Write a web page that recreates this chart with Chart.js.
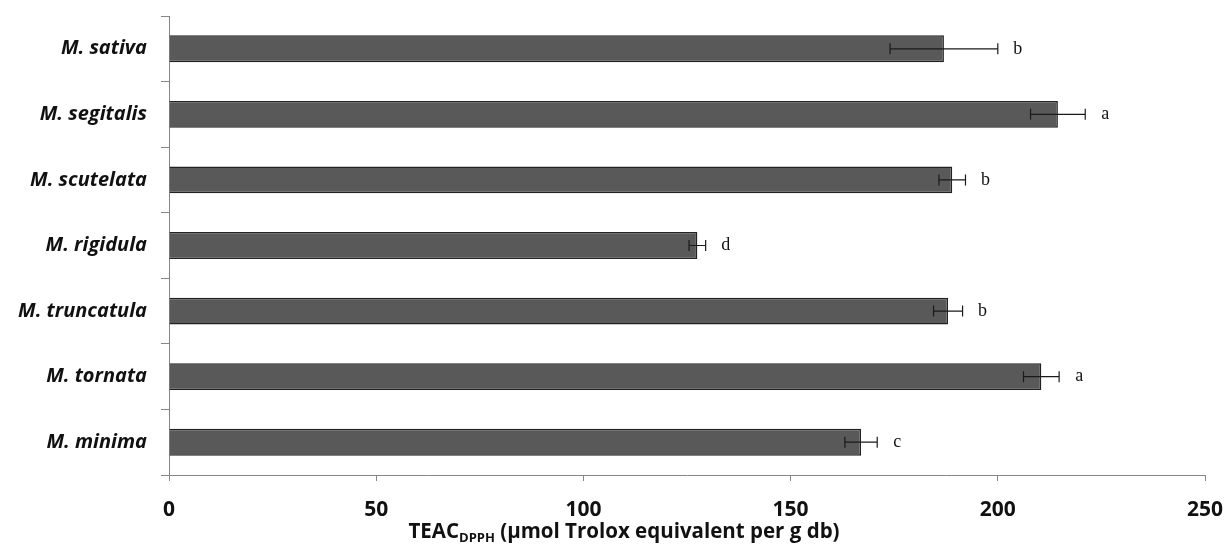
<!DOCTYPE html>
<html>
<head>
<meta charset="utf-8">
<script src="https://cdn.jsdelivr.net/npm/chart.js@4"></script>
<style>
  html, body { margin: 0; padding: 0; background: #fff; }
  #wrap { width: 1226px; height: 545px; }
</style>
</head>
<body>
<div id="wrap"><canvas id="drawChart"></canvas></div>
<script>
const species = ['M. sativa', 'M. segitalis', 'M. scutelata', 'M. rigidula', 'M. truncatula', 'M. tornata', 'M. minima'];
const teac = [187, 214.5, 189, 127.5, 188, 210.5, 167];
const errs = [13, 6.6, 3.2, 2, 3.5, 4.3, 3.9];
const letters = ['b', 'a', 'b', 'd', 'b', 'a', 'c'];
const xTicks = [0, 50, 100, 150, 200, 250];

const axisGray = '#868686';

// error bars + significance letters
const errorBars = {
    id: 'errorBars',
    afterDatasetsDraw(chart) {
        const c = chart.ctx;
        const xs = chart.scales.x;
        const meta = chart.getDatasetMeta(0);
        c.save();
        c.strokeStyle = '#1a1a1a';
        c.lineWidth = 1.2;
        meta.data.forEach(function (bar, i) {
            const y = bar.y;
            const x1 = xs.getPixelForValue(teac[i] - errs[i]);
            const x2 = xs.getPixelForValue(teac[i] + errs[i]);
            c.beginPath();
            c.moveTo(x1, y); c.lineTo(x2, y);
            c.moveTo(x1, y - 5.5); c.lineTo(x1, y + 5.5);
            c.moveTo(x2, y - 5.5); c.lineTo(x2, y + 5.5);
            c.stroke();
            c.fillStyle = '#111';
            c.font = '18px "Liberation Serif", serif';
            c.textAlign = 'center';
            c.textBaseline = 'middle';
            c.fillText(letters[i], x2 + 20, y);
        });
        c.restore();
    }
};

// x axis title with subscript
const axisTitle = {
    id: 'axisTitle',
    afterDraw(chart) {
        const c = chart.ctx;
        const main = 'TEAC';
        const sub = 'DPPH';
        const rest = ' (\u00b5mol Trolox equivalent per g db)';
        const big = 'bold 20.5px "Open Sans"';
        const small = 'bold 13px "Open Sans"';
        c.save();
        c.fillStyle = '#111';
        c.textBaseline = 'alphabetic';
        c.font = big;
        const w1 = c.measureText(main).width;
        const w3 = c.measureText(rest).width;
        c.font = small;
        const w2 = c.measureText(sub).width;
        const total = w1 + w2 + w3;
        let x = 624 - total / 2;
        const y = 538;
        c.font = big;
        c.fillText(main, x, y);
        x += w1;
        c.font = small;
        c.fillText(sub, x, y + 4);
        x += w2;
        c.font = big;
        c.fillText(rest, x, y);
        c.restore();
    }
};

const ctx = document.getElementById('drawChart').getContext('2d');
const myChart = new Chart(ctx, {
    type: 'bar',
    data: {
        labels: species,
        datasets: [{
            data: teac,
            backgroundColor: '#595959',
            borderColor: '#222222',
            borderWidth: 1.5,
            barPercentage: 0.41,
            categoryPercentage: 1
        }]
    },
    options: {
        indexAxis: 'y',
        responsive: true,
        maintainAspectRatio: false,
        animation: false,
        layout: { padding: { top: 16, right: 21, left: 0, bottom: 0 } },
        plugins: {
            legend: { display: false },
            tooltip: { enabled: false }
        },
        scales: {
            x: {
                min: 0,
                max: 250,
                afterBuildTicks: function (scale) {
                    scale.ticks = xTicks.map(v => ({ value: v }));
                },
                afterFit: function (scale) {
                    scale.height = 70;
                    scale.paddingLeft = 0;
                    scale.paddingRight = 0;
                },
                grid: {
                    drawOnChartArea: false,
                    drawTicks: true,
                    tickLength: 6,
                    color: axisGray
                },
                border: { display: true, color: axisGray, width: 1 },
                ticks: {
                    color: '#111',
                    padding: 16,
                    font: { family: 'Open Sans', weight: 'bold', size: 21 }
                }
            },
            y: {
                afterFit: function (scale) {
                    scale.width = 169;
                    scale.paddingTop = 0;
                    scale.paddingBottom = 0;
                },
                grid: {
                    offset: true,
                    drawOnChartArea: false,
                    drawTicks: true,
                    tickLength: 8,
                    color: axisGray
                },
                border: { display: true, color: axisGray, width: 1 },
                ticks: {
                    color: '#111',
                    padding: 14,
                    font: { family: 'Open Sans', weight: 'bold', style: 'italic', size: 20 }
                }
            }
        }
    },
    plugins: [errorBars, axisTitle]
});
</script>
</body>
</html>
